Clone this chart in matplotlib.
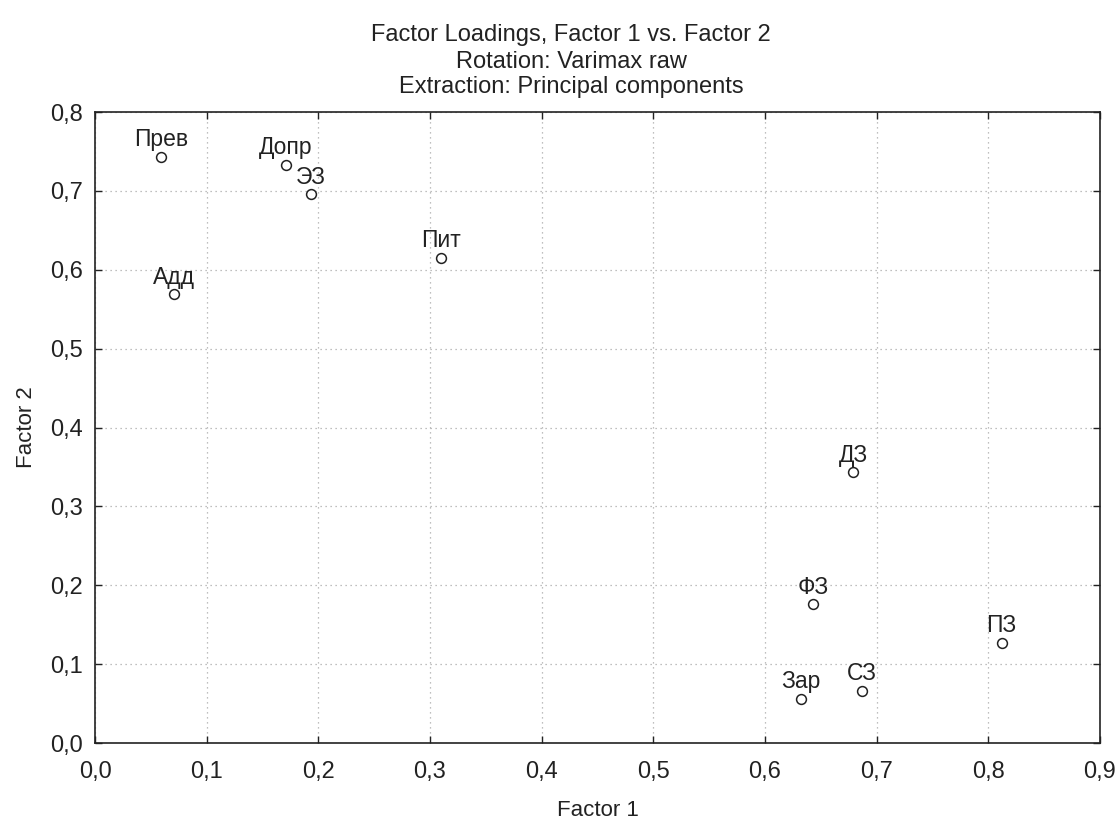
import matplotlib
matplotlib.use("Agg")
import matplotlib.pyplot as plt
from matplotlib.ticker import FuncFormatter, MultipleLocator

plt.rcParams['font.family'] = ['Liberation Sans', 'DejaVu Sans']

labels = ["Прев", "Допр", "ЭЗ", "Адд", "Пит", "ДЗ", "ФЗ", "ПЗ", "СЗ", "Зар"]
factor1 = [0.059, 0.171, 0.193, 0.071, 0.310, 0.679, 0.643, 0.812, 0.687, 0.632]
factor2 = [0.743, 0.733, 0.696, 0.569, 0.615, 0.343, 0.176, 0.127, 0.066, 0.056]

title_lines = ["Factor Loadings, Factor 1 vs. Factor 2",
               "Rotation: Varimax raw",
               "Extraction: Principal components"]

fig = plt.figure(figsize=(11.19, 8.22), dpi=100)
ax = fig.add_axes([0.0849, 0.0961, 0.983 - 0.0849, 0.8637 - 0.0961])

ax.scatter(factor1, factor2, s=50, facecolors='white', edgecolors='#222222',
           linewidths=1.1, zorder=3)
for lab, x, y in zip(labels, factor1, factor2):
    ax.annotate(lab, (x, y), xytext=(0, 4), textcoords='offset points',
                ha='center', va='bottom', fontsize=16.5, color='#222222')

ax.set_xlim(0, 0.9)
ax.set_ylim(0, 0.8)
ax.xaxis.set_major_locator(MultipleLocator(0.1))
ax.yaxis.set_major_locator(MultipleLocator(0.1))
fmt = FuncFormatter(lambda v, p: f"{v:.1f}".replace('.', ','))
ax.xaxis.set_major_formatter(fmt)
ax.yaxis.set_major_formatter(fmt)
ax.tick_params(direction='in', length=5, width=1, top=True, right=True,
               labelsize=17, colors='#222222')
ax.tick_params(axis='x', pad=13)
ax.tick_params(axis='y', pad=9)
ax.grid(True, linestyle=(0, (1, 3)), color='#aaaaaa', linewidth=0.9)
for sp in ax.spines.values():
    sp.set_color('#222222')
    sp.set_linewidth(1.2)

ax.set_xlabel("Factor 1", fontsize=16, color='#222222', labelpad=12)
ax.set_ylabel("Factor 2", fontsize=16, color='#222222', labelpad=9)

for i, (line, yc) in enumerate(zip(title_lines, [35, 62, 87])):
    fig.text(571 / 1119, 1 - yc / 822, line, ha='center', va='center',
             fontsize=17, color='#222222')

fig.savefig("out.png", dpi=100, facecolor='white')
